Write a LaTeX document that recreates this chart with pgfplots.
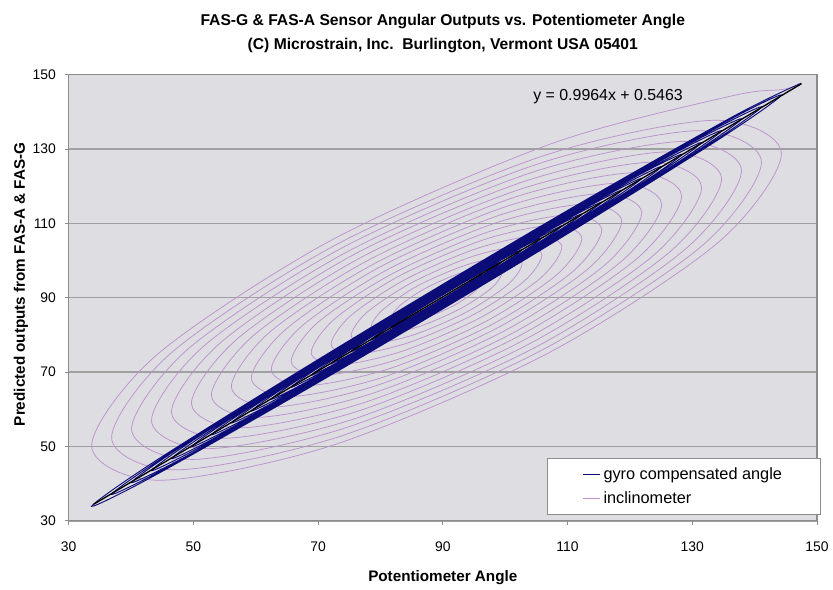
\documentclass[border=0pt]{standalone}
\usepackage{fontspec}
\setmainfont{Liberation Sans}
\usepackage{pgfplots}
\pgfplotsset{compat=1.18}
\definecolor{plotbg}{RGB}{221,221,226}
\definecolor{gridgray}{RGB}{160,160,160}
\definecolor{axisgray}{RGB}{140,140,140}
\definecolor{navy}{RGB}{12,12,120}
\definecolor{incl}{RGB}{188,145,205}

\begin{document}
\begin{tikzpicture}
\begin{axis}[name=ax,
  scale only axis, width=564.75pt, height=336.75pt,
  xmin=30, xmax=150, ymin=30, ymax=150,
  xtick={30,50,...,150}, ytick={30,50,...,150},
  ymajorgrids, grid style={draw=gridgray, line width=1.1pt},
  axis background/.style={fill=plotbg},
  axis line style={draw=axisgray, line width=0.8pt},
  tick style={draw=axisgray, line width=0.6pt},
  tick align=outside, major tick length=3pt,
  xtick pos=left, ytick pos=left,
  /pgf/number format/assume math mode=true,
  ticklabel style={font=\fontsize{10.5}{12}\selectfont},
  xticklabel style={yshift=-9pt},
  yticklabel style={xshift=-3pt},
  title={FAS-G \& FAS-A Sensor Angular Outputs vs. Potentiometer Angle\\(C) Microstrain, Inc.\ \ Burlington, Vermont USA 05401},
  title style={font=\bfseries\fontsize{11.8}{18}\selectfont, align=center,
               at={(axis description cs:0.5,1.074)}, anchor=center},
  xlabel={Potentiometer Angle},
  ylabel={Predicted outputs from FAS-A \& FAS-G},
  xlabel style={font=\bfseries\fontsize{11.5}{13}\selectfont,
                at={(axis description cs:0.5,-0.127)}, anchor=center},
  ylabel style={font=\bfseries\fontsize{11.5}{13}\selectfont,
                at={(axis description cs:-0.0637,0.53)}, anchor=center},
  legend style={at={(1.005,0.013)}, anchor=south east, draw=axisgray, fill=white,
                font=\fontsize{12.3}{14}\selectfont, inner xsep=27pt, inner ysep=5pt,
                row sep=4pt, cells={anchor=west}},
  legend image code/.code={\draw[#1] (0pt,0pt) -- (13pt,0pt);},
]
\addlegendimage{navy, line width=0.6pt}
\addlegendentry{gyro compensated angle}
\addlegendimage{incl, line width=0.6pt}
\addlegendentry{inclinometer}

% inclinometer: lagging, damped swing
\addplot[incl, line width=0.55pt, smooth, forget plot] coordinates {
 (147.5,147.5) (144.5,146.0) (136.2,144.2) (107.4,131.4) (72.3,105.6) (44.2,74.7)
 (33.7,50.1) (44.7,40.9) (72.7,50.5) (106.8,75.0) (134.2,104.9)
 (144.3,128.8) (133.6,137.7) (106.4,128.3) (73.3,104.6) (46.7,75.5)
 (36.9,52.3) (47.3,43.7) (73.7,52.8) (105.9,75.9) (131.6,104.0)
 (141.1,126.5) (131.0,134.9) (105.5,126.1) (74.2,103.7) (49.3,76.4)
 (40.1,54.6) (49.9,46.5) (74.6,55.1) (104.9,76.7) (129.0,103.2)
 (137.9,124.2) (128.5,132.0) (104.5,123.8) (75.2,102.8) (51.9,77.3)
 (43.3,56.9) (52.4,49.4) (75.6,57.3) (103.9,77.6) (126.4,102.3)
 (134.7,122.0) (125.9,129.2) (103.5,121.5) (76.2,102.0) (54.5,78.1)
 (46.5,59.2) (55.0,52.2) (76.6,59.6) (102.9,78.5) (123.8,101.4)
 (131.5,119.7) (123.3,126.4) (102.5,119.2) (77.2,101.1) (57.1,79.0)
 (49.7,61.5) (57.6,55.0) (77.6,61.9) (101.9,79.4) (121.2,100.6)
 (128.3,117.4) (120.7,123.6) (101.5,117.0) (78.2,100.2) (59.7,79.9)
 (52.9,63.7) (60.2,57.8) (78.6,64.2) (100.9,80.2) (118.6,99.7)
 (125.1,115.1) (118.1,120.8) (100.5,114.7) (79.2,99.3) (62.3,80.8)
 (56.1,66.0) (62.8,60.6) (79.6,66.5) (99.9,81.1) (116.0,98.8)
 (121.9,112.9) (115.5,118.0) (99.5,112.4) (80.2,98.5) (64.9,81.6)
 (59.3,68.3) (65.4,63.4) (80.6,68.7) (98.9,82.0) (113.4,97.9)
 (118.7,110.6) (112.9,115.2) (98.5,110.1) (81.2,97.6) (67.5,82.5)
 (62.5,70.6) (68.0,66.3) (81.6,71.0) (97.9,82.8) (110.9,97.1)
 (115.5,108.3) (110.3,112.3) (97.5,107.8) (82.2,96.7) (70.0,83.4)
 (65.7,72.8) (70.6,69.1) (82.6,73.3) (97.0,83.7) (108.3,96.2)
 (112.3,106.0) (107.7,109.5) (96.6,105.6) (83.1,95.9) (72.6,84.2)
 (68.9,75.1) (73.2,71.9) (83.5,75.6) (96.0,84.6) (105.7,95.3)
 (109.1,103.7) (105.2,106.7) (95.6,103.3) (84.1,95.0) (75.2,85.1)
 (72.1,77.4) (75.7,74.7) (84.5,77.9) (95.0,85.5) (103.1,94.5)
 (105.9,101.5) (102.6,103.9) (94.6,101.0) (85.1,94.1) (77.8,86.0)
 (75.3,79.7) (78.3,77.5) (85.5,80.1) (94.0,86.3) (100.5,93.6)
 (102.7,99.2) (100.0,101.1) (93.6,98.7) (86.1,93.3) (80.4,86.8)
 (78.5,82.0) (80.9,80.3) (86.5,82.4) (93.0,87.2) (97.9,92.7)
 (99.5,96.9) (97.4,98.3) (92.6,96.5) (87.1,92.4) (83.0,87.7)
 (81.7,84.2) (83.5,83.2) (87.5,84.7) (92.0,88.1) (95.3,91.9)
 (96.3,94.6) (94.8,95.4) (91.6,94.2) (88.1,91.5) (85.6,88.6)
 (84.9,86.5) (86.1,86.0) (88.5,87.0) (91.0,88.9) (92.7,91.0) (93.1,92.4)
};

% gyro compensated angle: almost no lag
\addplot[navy, line width=0.7pt, smooth, forget plot] coordinates {
 (147.5,147.7) (136.2,138.4) (107.4,110.9) (72.3,75.7) (44.2,46.4)
 (33.7,33.9) (44.7,43.0) (72.7,69.8) (106.8,103.9) (134.2,132.5)
 (144.3,144.5) (133.6,135.7) (106.4,109.6) (73.3,76.5) (46.7,48.7)
 (36.9,37.1) (47.3,45.7) (73.7,70.9) (105.9,103.1) (131.6,130.0)
 (141.1,141.3) (131.0,133.0) (105.5,108.6) (74.2,77.3) (49.3,51.3)
 (40.1,40.3) (49.9,48.3) (74.6,72.0) (104.9,102.3) (129.0,127.5)
 (137.9,138.1) (128.5,130.4) (104.5,107.4) (75.2,78.1) (51.9,53.8)
 (43.3,43.5) (52.4,51.0) (75.6,73.2) (103.9,101.5) (126.4,125.0)
 (134.7,134.9) (125.9,127.7) (103.5,106.2) (76.2,78.9) (54.5,56.2)
 (46.5,46.7) (55.0,53.7) (76.6,74.4) (102.9,100.7) (123.8,122.6)
 (131.5,131.7) (123.3,124.9) (102.5,105.0) (77.2,79.7) (57.1,58.7)
 (49.7,49.9) (57.6,56.4) (77.6,75.6) (101.9,99.9) (121.2,120.0)
 (128.3,128.5) (120.7,122.3) (101.5,103.9) (78.2,80.6) (59.7,61.2)
 (52.9,53.1) (60.2,59.1) (78.6,76.7) (100.9,99.1) (118.6,117.5)
 (125.1,125.3) (118.1,119.5) (100.5,102.7) (79.2,81.3) (62.3,63.7)
 (56.1,56.3) (62.8,61.8) (79.6,78.0) (99.9,98.3) (116.0,115.1)
 (121.9,122.1) (115.5,116.8) (99.5,101.5) (80.2,82.2) (64.9,66.2)
 (59.3,59.5) (65.4,64.6) (80.6,79.1) (98.9,97.4) (113.4,112.6)
 (118.7,118.9) (112.9,114.1) (98.5,100.3) (81.2,83.0) (67.5,68.7)
 (62.5,62.7) (68.0,67.2) (81.6,80.3) (97.9,96.6) (110.9,110.2)
 (115.5,115.7) (110.3,111.4) (97.5,99.1) (82.2,83.8) (70.0,71.1)
 (65.7,65.9) (70.6,70.0) (82.6,81.4) (97.0,95.9) (108.3,107.7)
 (112.3,112.5) (107.7,108.7) (96.6,98.0) (83.1,84.5) (72.6,73.5)
 (68.9,69.1) (73.2,72.7) (83.5,82.6) (96.0,95.1) (105.7,105.2)
 (109.1,109.3) (105.2,106.0) (95.6,96.8) (84.1,85.3) (75.2,76.0)
 (72.1,72.3) (75.7,75.3) (84.5,83.7) (95.0,94.2) (103.1,102.7)
 (105.9,106.1) (102.6,103.4) (94.6,95.7) (85.1,86.2) (77.8,78.6)
 (75.3,75.5) (78.3,78.0) (85.5,84.9) (94.0,93.4) (100.5,100.2)
 (102.7,102.9) (100.0,100.7) (93.6,94.5) (86.1,87.0) (80.4,81.0)
 (78.5,78.7) (80.9,80.7) (86.5,86.1) (93.0,92.6) (97.9,97.8)
 (99.5,99.7) (97.4,97.9) (92.6,93.3) (87.1,87.8) (83.0,83.5)
 (81.7,81.9) (83.5,83.5) (87.5,87.3) (92.0,91.8) (95.3,95.3) (96.3,96.5)
};

% linear trendline
\addplot[black, line width=1pt, forget plot] coordinates {(34,34.42) (147.5,147.52)};
\node[font=\fontsize{12}{14}\selectfont] at (axis cs:116.5,144.2) {y = 0.9964x + 0.5463};
\end{axis}
\path ([shift={(-51.75pt,-47.25pt)}]ax.south west) rectangle ([shift={(8.25pt,56.25pt)}]ax.north east);
\end{tikzpicture}
\end{document}
